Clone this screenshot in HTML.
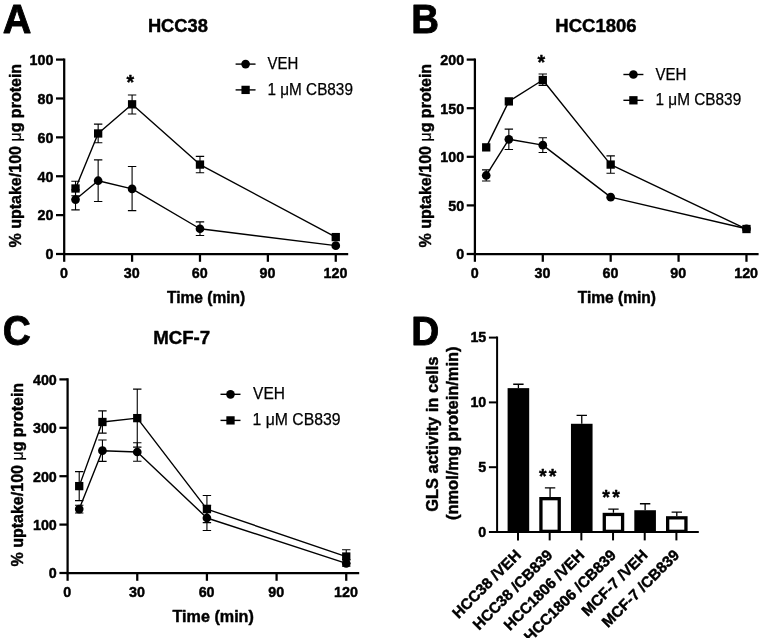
<!DOCTYPE html>
<html lang="en">
<head>
<meta charset="utf-8">
<title>Figure</title>
<style>
html,body{margin:0;padding:0;background:#fff;}
svg{display:block;}
</style>
</head>
<body>
<svg width="760" height="638" viewBox="0 0 760 638" font-family="'Liberation Sans', Arial, Helvetica, sans-serif" fill="#000" stroke="#000" stroke-linejoin="round">
<rect x="0" y="0" width="760" height="638" fill="#fff" stroke="none"/>
<path d="M75.52 199.57L98.15 180.71L132.09 188.88L199.98 228.73L335.76 245.64" stroke-width="1.4" fill="none"/>
<path d="M75.52 188.49L98.15 133.47L132.09 104.31L199.98 164.58L335.76 237.09" stroke-width="1.4" fill="none"/>
<path d="M75.52 189.85V209.87M71.31 189.85H79.72M71.31 209.87H79.72" stroke-width="1.1" fill="none"/>
<path d="M98.15 159.91V201.51M93.95 159.91H102.35M93.95 201.51H102.35" stroke-width="1.1" fill="none"/>
<path d="M132.09 166.52V210.65M127.89 166.52H136.29M127.89 210.65H136.29" stroke-width="1.1" fill="none"/>
<path d="M199.98 221.92V235.53M195.78 221.92H204.18M195.78 235.53H204.18" stroke-width="1.1" fill="none"/>
<circle cx="75.52" cy="199.57" r="4.35" stroke="none"/>
<circle cx="98.15" cy="180.71" r="4.35" stroke="none"/>
<circle cx="132.09" cy="188.88" r="4.35" stroke="none"/>
<circle cx="199.98" cy="228.73" r="4.35" stroke="none"/>
<circle cx="335.76" cy="245.64" r="4.35" stroke="none"/>
<path d="M75.52 181.29V195.68M71.31 181.29H79.72M71.31 195.68H79.72" stroke-width="1.1" fill="none"/>
<path d="M98.15 124.14V142.8M93.95 124.14H102.35M93.95 142.8H102.35" stroke-width="1.1" fill="none"/>
<path d="M132.09 94.98V114.03M127.89 94.98H136.29M127.89 114.03H136.29" stroke-width="1.1" fill="none"/>
<path d="M199.98 156.41V172.74M195.78 156.41H204.18M195.78 172.74H204.18" stroke-width="1.1" fill="none"/>
<rect x="71.36" y="184.34" width="8.3" height="8.3" stroke="none"/>
<rect x="94" y="129.32" width="8.3" height="8.3" stroke="none"/>
<rect x="127.94" y="100.16" width="8.3" height="8.3" stroke="none"/>
<rect x="195.83" y="160.43" width="8.3" height="8.3" stroke="none"/>
<rect x="331.61" y="232.94" width="8.3" height="8.3" stroke="none"/>
<path d="M64.2 58.47V255.12M63.08 254H348.2" stroke-width="2.25" fill="none"/>
<line x1="56" y1="254" x2="64.2" y2="254" stroke-width="2.25"/>
<text x="53.4" y="259.35" font-size="14.3" font-weight="bold" stroke-width="0.45" text-anchor="end" textLength="7.95" lengthAdjust="spacingAndGlyphs">0</text>
<line x1="56" y1="215.12" x2="64.2" y2="215.12" stroke-width="2.25"/>
<text x="53.4" y="220.47" font-size="14.3" font-weight="bold" stroke-width="0.45" text-anchor="end" textLength="15.91" lengthAdjust="spacingAndGlyphs">20</text>
<line x1="56" y1="176.24" x2="64.2" y2="176.24" stroke-width="2.25"/>
<text x="53.4" y="181.59" font-size="14.3" font-weight="bold" stroke-width="0.45" text-anchor="end" textLength="15.91" lengthAdjust="spacingAndGlyphs">40</text>
<line x1="56" y1="137.36" x2="64.2" y2="137.36" stroke-width="2.25"/>
<text x="53.4" y="142.71" font-size="14.3" font-weight="bold" stroke-width="0.45" text-anchor="end" textLength="15.91" lengthAdjust="spacingAndGlyphs">60</text>
<line x1="56" y1="98.48" x2="64.2" y2="98.48" stroke-width="2.25"/>
<text x="53.4" y="103.83" font-size="14.3" font-weight="bold" stroke-width="0.45" text-anchor="end" textLength="15.91" lengthAdjust="spacingAndGlyphs">80</text>
<line x1="56" y1="59.6" x2="64.2" y2="59.6" stroke-width="2.25"/>
<text x="53.4" y="64.95" font-size="14.3" font-weight="bold" stroke-width="0.45" text-anchor="end" textLength="23.86" lengthAdjust="spacingAndGlyphs">100</text>
<line x1="64.2" y1="254" x2="64.2" y2="261.8" stroke-width="2.25"/>
<text x="63.9" y="278.2" font-size="14.3" font-weight="bold" stroke-width="0.45" text-anchor="middle" textLength="7.95" lengthAdjust="spacingAndGlyphs">0</text>
<line x1="132.09" y1="254" x2="132.09" y2="261.8" stroke-width="2.25"/>
<text x="131.79" y="278.2" font-size="14.3" font-weight="bold" stroke-width="0.45" text-anchor="middle" textLength="15.91" lengthAdjust="spacingAndGlyphs">30</text>
<line x1="199.98" y1="254" x2="199.98" y2="261.8" stroke-width="2.25"/>
<text x="199.68" y="278.2" font-size="14.3" font-weight="bold" stroke-width="0.45" text-anchor="middle" textLength="15.91" lengthAdjust="spacingAndGlyphs">60</text>
<line x1="267.87" y1="254" x2="267.87" y2="261.8" stroke-width="2.25"/>
<text x="267.57" y="278.2" font-size="14.3" font-weight="bold" stroke-width="0.45" text-anchor="middle" textLength="15.91" lengthAdjust="spacingAndGlyphs">90</text>
<line x1="335.76" y1="254" x2="335.76" y2="261.8" stroke-width="2.25"/>
<text x="335.46" y="278.2" font-size="14.3" font-weight="bold" stroke-width="0.45" text-anchor="middle" textLength="23.86" lengthAdjust="spacingAndGlyphs">120</text>
<text transform="translate(167 303)" x="0.05" y="0" font-size="16.4" font-weight="bold" stroke-width="0.45" textLength="78.19" lengthAdjust="spacingAndGlyphs">Time (min)</text>
<text transform="translate(21.2 247.4) rotate(-90)" x="-0.17" y="0" font-size="15.7" font-weight="bold" stroke-width="0.45" textLength="183.74" lengthAdjust="spacingAndGlyphs">% uptake/100 <tspan font-weight="normal" stroke-width="0.2">μ</tspan>g protein</text>
<line x1="235.6" y1="64.1" x2="255.6" y2="64.1" stroke-width="1.4"/>
<circle cx="245.6" cy="64.1" r="4.35" stroke="none"/>
<text transform="translate(267.4 68.9)" x="0.06" y="0" font-size="16.1" stroke-width="0.25" textLength="30.73" lengthAdjust="spacingAndGlyphs">VEH</text>
<line x1="235.6" y1="89.9" x2="255.6" y2="89.9" stroke-width="1.4"/>
<rect x="241.45" y="85.75" width="8.3" height="8.3" stroke="none"/>
<text transform="translate(268.5 94.5)" x="-1.04" y="0" font-size="16.1" stroke-width="0.25" textLength="85.44" lengthAdjust="spacingAndGlyphs">1 μM CB839</text>
<text transform="translate(148.9 32.1)" x="-1" y="0" font-size="18.4" font-weight="bold" stroke-width="0.45" textLength="59.94" lengthAdjust="spacingAndGlyphs">HCC38</text>
<text x="130.2" y="89.1" font-size="19.6" font-weight="bold" stroke-width="0.4" text-anchor="middle">*</text>
<text transform="translate(3.3 32.8)" x="-0.54" y="0" font-size="40.6" font-weight="bold" stroke-width="0.9" textLength="28.63" lengthAdjust="spacingAndGlyphs">A</text>
<path d="M486.21 175.46L508.84 139.3L542.79 145.14L610.68 197.14L746.46 228.73" stroke-width="1.4" fill="none"/>
<path d="M486.21 147.37L508.84 101.4L542.79 80.01L610.68 164.58L746.46 229.02" stroke-width="1.4" fill="none"/>
<path d="M486.21 169.92V181M482.01 169.92H490.41M482.01 181H490.41" stroke-width="1.1" fill="none"/>
<path d="M508.84 129.1V149.51M504.64 129.1H513.04M504.64 149.51H513.04" stroke-width="1.1" fill="none"/>
<path d="M542.79 137.75V152.52M538.59 137.75H546.99M538.59 152.52H546.99" stroke-width="1.1" fill="none"/>
<circle cx="486.21" cy="175.46" r="4.35" stroke="none"/>
<circle cx="508.84" cy="139.3" r="4.35" stroke="none"/>
<circle cx="542.79" cy="145.14" r="4.35" stroke="none"/>
<circle cx="610.68" cy="197.14" r="4.35" stroke="none"/>
<circle cx="746.46" cy="228.73" r="4.35" stroke="none"/>
<path d="M542.79 73.99V85.36M538.59 73.99H546.99M538.59 85.36H546.99" stroke-width="1.1" fill="none"/>
<path d="M610.68 155.83V173.32M606.48 155.83H614.88M606.48 173.32H614.88" stroke-width="1.1" fill="none"/>
<rect x="482.06" y="143.22" width="8.3" height="8.3" stroke="none"/>
<rect x="504.69" y="97.25" width="8.3" height="8.3" stroke="none"/>
<rect x="538.64" y="75.86" width="8.3" height="8.3" stroke="none"/>
<rect x="606.53" y="160.43" width="8.3" height="8.3" stroke="none"/>
<rect x="742.31" y="224.87" width="8.3" height="8.3" stroke="none"/>
<path d="M474.9 58.47V255.12M473.77 254H758.6" stroke-width="2.25" fill="none"/>
<line x1="466.7" y1="254" x2="474.9" y2="254" stroke-width="2.25"/>
<text x="464.1" y="259.35" font-size="14.3" font-weight="bold" stroke-width="0.45" text-anchor="end" textLength="7.95" lengthAdjust="spacingAndGlyphs">0</text>
<line x1="466.7" y1="205.4" x2="474.9" y2="205.4" stroke-width="2.25"/>
<text x="464.1" y="210.75" font-size="14.3" font-weight="bold" stroke-width="0.45" text-anchor="end" textLength="15.91" lengthAdjust="spacingAndGlyphs">50</text>
<line x1="466.7" y1="156.8" x2="474.9" y2="156.8" stroke-width="2.25"/>
<text x="464.1" y="162.15" font-size="14.3" font-weight="bold" stroke-width="0.45" text-anchor="end" textLength="23.86" lengthAdjust="spacingAndGlyphs">100</text>
<line x1="466.7" y1="108.2" x2="474.9" y2="108.2" stroke-width="2.25"/>
<text x="464.1" y="113.55" font-size="14.3" font-weight="bold" stroke-width="0.45" text-anchor="end" textLength="23.86" lengthAdjust="spacingAndGlyphs">150</text>
<line x1="466.7" y1="59.6" x2="474.9" y2="59.6" stroke-width="2.25"/>
<text x="464.1" y="64.95" font-size="14.3" font-weight="bold" stroke-width="0.45" text-anchor="end" textLength="23.86" lengthAdjust="spacingAndGlyphs">200</text>
<line x1="474.9" y1="254" x2="474.9" y2="261.8" stroke-width="2.25"/>
<text x="474.6" y="278.2" font-size="14.3" font-weight="bold" stroke-width="0.45" text-anchor="middle" textLength="7.95" lengthAdjust="spacingAndGlyphs">0</text>
<line x1="542.79" y1="254" x2="542.79" y2="261.8" stroke-width="2.25"/>
<text x="542.49" y="278.2" font-size="14.3" font-weight="bold" stroke-width="0.45" text-anchor="middle" textLength="15.91" lengthAdjust="spacingAndGlyphs">30</text>
<line x1="610.68" y1="254" x2="610.68" y2="261.8" stroke-width="2.25"/>
<text x="610.38" y="278.2" font-size="14.3" font-weight="bold" stroke-width="0.45" text-anchor="middle" textLength="15.91" lengthAdjust="spacingAndGlyphs">60</text>
<line x1="678.57" y1="254" x2="678.57" y2="261.8" stroke-width="2.25"/>
<text x="678.27" y="278.2" font-size="14.3" font-weight="bold" stroke-width="0.45" text-anchor="middle" textLength="15.91" lengthAdjust="spacingAndGlyphs">90</text>
<line x1="746.46" y1="254" x2="746.46" y2="261.8" stroke-width="2.25"/>
<text x="746.16" y="278.2" font-size="14.3" font-weight="bold" stroke-width="0.45" text-anchor="middle" textLength="23.86" lengthAdjust="spacingAndGlyphs">120</text>
<text transform="translate(577.7 303)" x="0.05" y="0" font-size="16.4" font-weight="bold" stroke-width="0.45" textLength="78.19" lengthAdjust="spacingAndGlyphs">Time (min)</text>
<text transform="translate(430.5 247.4) rotate(-90)" x="-0.17" y="0" font-size="15.7" font-weight="bold" stroke-width="0.45" textLength="183.74" lengthAdjust="spacingAndGlyphs">% uptake/100 <tspan font-weight="normal" stroke-width="0.2">μ</tspan>g protein</text>
<line x1="623.4" y1="74.5" x2="643.4" y2="74.5" stroke-width="1.4"/>
<circle cx="633.4" cy="74.5" r="4.35" stroke="none"/>
<text transform="translate(655.5 79.5)" x="0.06" y="0" font-size="16.1" stroke-width="0.25" textLength="30.94" lengthAdjust="spacingAndGlyphs">VEH</text>
<line x1="623.4" y1="100.3" x2="643.4" y2="100.3" stroke-width="1.4"/>
<rect x="629.25" y="96.15" width="8.3" height="8.3" stroke="none"/>
<text transform="translate(656.5 105.1)" x="-1.05" y="0" font-size="16.1" stroke-width="0.25" textLength="85.75" lengthAdjust="spacingAndGlyphs">1 μM CB839</text>
<text transform="translate(556.3 32.1)" x="-1.01" y="0" font-size="18.4" font-weight="bold" stroke-width="0.45" textLength="81.26" lengthAdjust="spacingAndGlyphs">HCC1806</text>
<text x="541.4" y="68.6" font-size="19.6" font-weight="bold" stroke-width="0.4" text-anchor="middle">*</text>
<text transform="translate(413.3 32.6)" x="-2.12" y="0" font-size="40.6" font-weight="bold" stroke-width="0.9" textLength="27.71" lengthAdjust="spacingAndGlyphs">B</text>
<path d="M79.21 509.11L102.43 450.69L137.26 452L206.92 517.97L346.24 563.42" stroke-width="1.4" fill="none"/>
<path d="M79.21 486.12L102.43 421.99L137.26 418.12L206.92 509.11L346.24 556.54" stroke-width="1.4" fill="none"/>
<path d="M79.21 505.24V512.98M75.01 505.24H83.41M75.01 512.98H83.41" stroke-width="1.1" fill="none"/>
<path d="M102.43 440.05V461.34M98.23 440.05H106.63M98.23 461.34H106.63" stroke-width="1.1" fill="none"/>
<path d="M137.26 442.8V461.2M133.06 442.8H141.46M133.06 461.2H141.46" stroke-width="1.1" fill="none"/>
<path d="M206.92 505.39V530.55M202.72 505.39H211.12M202.72 530.55H211.12" stroke-width="1.1" fill="none"/>
<path d="M346.24 559.54V566.08M342.04 559.54H350.44M342.04 566.08H350.44" stroke-width="1.1" fill="none"/>
<circle cx="79.21" cy="509.11" r="4.35" stroke="none"/>
<circle cx="102.43" cy="450.69" r="4.35" stroke="none"/>
<circle cx="137.26" cy="452" r="4.35" stroke="none"/>
<circle cx="206.92" cy="517.97" r="4.35" stroke="none"/>
<circle cx="346.24" cy="563.42" r="4.35" stroke="none"/>
<path d="M79.21 471.6V500.64M75.01 471.6H83.41M75.01 500.64H83.41" stroke-width="1.1" fill="none"/>
<path d="M102.43 410.86V433.12M98.23 410.86H106.63M98.23 433.12H106.63" stroke-width="1.1" fill="none"/>
<path d="M137.26 389.08V447.16M133.06 389.08H141.46M133.06 447.16H141.46" stroke-width="1.1" fill="none"/>
<path d="M206.92 495.56V522.66M202.72 495.56H211.12M202.72 522.66H211.12" stroke-width="1.1" fill="none"/>
<path d="M346.24 549.77V563.32M342.04 549.77H350.44M342.04 563.32H350.44" stroke-width="1.1" fill="none"/>
<rect x="75.06" y="481.97" width="8.3" height="8.3" stroke="none"/>
<rect x="98.28" y="417.84" width="8.3" height="8.3" stroke="none"/>
<rect x="133.11" y="413.97" width="8.3" height="8.3" stroke="none"/>
<rect x="202.77" y="504.96" width="8.3" height="8.3" stroke="none"/>
<rect x="342.09" y="552.39" width="8.3" height="8.3" stroke="none"/>
<path d="M67.6 378.27V574.12M66.47 573H359.2" stroke-width="2.25" fill="none"/>
<line x1="59.4" y1="573" x2="67.6" y2="573" stroke-width="2.25"/>
<text x="56.8" y="578.35" font-size="14.3" font-weight="bold" stroke-width="0.45" text-anchor="end" textLength="7.95" lengthAdjust="spacingAndGlyphs">0</text>
<line x1="59.4" y1="524.6" x2="67.6" y2="524.6" stroke-width="2.25"/>
<text x="56.8" y="529.95" font-size="14.3" font-weight="bold" stroke-width="0.45" text-anchor="end" textLength="23.86" lengthAdjust="spacingAndGlyphs">100</text>
<line x1="59.4" y1="476.2" x2="67.6" y2="476.2" stroke-width="2.25"/>
<text x="56.8" y="481.55" font-size="14.3" font-weight="bold" stroke-width="0.45" text-anchor="end" textLength="23.86" lengthAdjust="spacingAndGlyphs">200</text>
<line x1="59.4" y1="427.8" x2="67.6" y2="427.8" stroke-width="2.25"/>
<text x="56.8" y="433.15" font-size="14.3" font-weight="bold" stroke-width="0.45" text-anchor="end" textLength="23.86" lengthAdjust="spacingAndGlyphs">300</text>
<line x1="59.4" y1="379.4" x2="67.6" y2="379.4" stroke-width="2.25"/>
<text x="56.8" y="384.75" font-size="14.3" font-weight="bold" stroke-width="0.45" text-anchor="end" textLength="23.86" lengthAdjust="spacingAndGlyphs">400</text>
<line x1="67.6" y1="573" x2="67.6" y2="580.8" stroke-width="2.25"/>
<text x="67.3" y="597.1" font-size="14.3" font-weight="bold" stroke-width="0.45" text-anchor="middle" textLength="7.95" lengthAdjust="spacingAndGlyphs">0</text>
<line x1="137.26" y1="573" x2="137.26" y2="580.8" stroke-width="2.25"/>
<text x="136.96" y="597.1" font-size="14.3" font-weight="bold" stroke-width="0.45" text-anchor="middle" textLength="15.91" lengthAdjust="spacingAndGlyphs">30</text>
<line x1="206.92" y1="573" x2="206.92" y2="580.8" stroke-width="2.25"/>
<text x="206.62" y="597.1" font-size="14.3" font-weight="bold" stroke-width="0.45" text-anchor="middle" textLength="15.91" lengthAdjust="spacingAndGlyphs">60</text>
<line x1="276.58" y1="573" x2="276.58" y2="580.8" stroke-width="2.25"/>
<text x="276.28" y="597.1" font-size="14.3" font-weight="bold" stroke-width="0.45" text-anchor="middle" textLength="15.91" lengthAdjust="spacingAndGlyphs">90</text>
<line x1="346.24" y1="573" x2="346.24" y2="580.8" stroke-width="2.25"/>
<text x="345.94" y="597.1" font-size="14.3" font-weight="bold" stroke-width="0.45" text-anchor="middle" textLength="23.86" lengthAdjust="spacingAndGlyphs">120</text>
<text transform="translate(172.5 621.5)" x="0.04" y="0" font-size="16.9" font-weight="bold" stroke-width="0.45" textLength="81.33" lengthAdjust="spacingAndGlyphs">Time (min)</text>
<text transform="translate(22.8 566.4) rotate(-90)" x="-0.17" y="0" font-size="15.7" font-weight="bold" stroke-width="0.45" textLength="183.74" lengthAdjust="spacingAndGlyphs">% uptake/100 <tspan font-weight="normal" stroke-width="0.2">μ</tspan>g protein</text>
<line x1="220.5" y1="394.3" x2="240.5" y2="394.3" stroke-width="1.4"/>
<circle cx="230.5" cy="394.3" r="4.35" stroke="none"/>
<text transform="translate(253 399.1)" x="0.06" y="0" font-size="16.1" stroke-width="0.25" textLength="31.88" lengthAdjust="spacingAndGlyphs">VEH</text>
<line x1="220.5" y1="420.4" x2="240.5" y2="420.4" stroke-width="1.4"/>
<rect x="226.35" y="416.25" width="8.3" height="8.3" stroke="none"/>
<text transform="translate(253.6 424.8)" x="-1.08" y="0" font-size="16.1" stroke-width="0.25" textLength="88.1" lengthAdjust="spacingAndGlyphs">1 μM CB839</text>
<text transform="translate(154.2 344.4)" x="-1.02" y="0" font-size="19.2" font-weight="bold" stroke-width="0.45" textLength="57.02" lengthAdjust="spacingAndGlyphs">MCF-7</text>
<text transform="translate(4 345.3)" x="-1.14" y="0" font-size="42.3" font-weight="bold" stroke-width="0.9" textLength="28.06" lengthAdjust="spacingAndGlyphs">C</text>
<path d="M518.4 388.14V384.26M513.2 384.26H523.6" stroke-width="1.3" fill="none"/>
<rect x="507.6" y="388.14" width="21.6" height="143.86" stroke="none"/>
<path d="M550.08 497.01V487.94M544.88 487.94H555.28" stroke-width="1.3" fill="none"/>
<rect x="540.93" y="498.66" width="18.3" height="32.69" fill="#fff" stroke-width="3.3" stroke-linejoin="miter"/>
<path d="M581.76 423.78V415.36M576.56 415.36H586.96" stroke-width="1.3" fill="none"/>
<rect x="570.96" y="423.78" width="21.6" height="108.22" stroke="none"/>
<path d="M613.44 512.82V509.19M608.24 509.19H618.64" stroke-width="1.3" fill="none"/>
<rect x="604.29" y="514.47" width="18.3" height="16.88" fill="#fff" stroke-width="3.3" stroke-linejoin="miter"/>
<path d="M645.12 510.23V503.75M639.92 503.75H650.32" stroke-width="1.3" fill="none"/>
<rect x="634.32" y="510.23" width="21.6" height="21.77" stroke="none"/>
<path d="M676.8 516.19V512.04M671.6 512.04H682" stroke-width="1.3" fill="none"/>
<rect x="667.65" y="517.84" width="18.3" height="13.51" fill="#fff" stroke-width="3.3" stroke-linejoin="miter"/>
<path d="M497.1 336.6V533M496.1 532H698.8" stroke-width="2" fill="none"/>
<line x1="488.9" y1="532" x2="497.1" y2="532" stroke-width="2"/>
<text x="486.3" y="536.6" font-size="14.3" font-weight="bold" stroke-width="0.45" text-anchor="end" textLength="7.95" lengthAdjust="spacingAndGlyphs">0</text>
<line x1="488.9" y1="467.2" x2="497.1" y2="467.2" stroke-width="2"/>
<text x="486.3" y="471.8" font-size="14.3" font-weight="bold" stroke-width="0.45" text-anchor="end" textLength="7.95" lengthAdjust="spacingAndGlyphs">5</text>
<line x1="488.9" y1="402.4" x2="497.1" y2="402.4" stroke-width="2"/>
<text x="486.3" y="407" font-size="14.3" font-weight="bold" stroke-width="0.45" text-anchor="end" textLength="15.91" lengthAdjust="spacingAndGlyphs">10</text>
<line x1="488.9" y1="337.6" x2="497.1" y2="337.6" stroke-width="2"/>
<text x="486.3" y="342.2" font-size="14.3" font-weight="bold" stroke-width="0.45" text-anchor="end" textLength="15.91" lengthAdjust="spacingAndGlyphs">15</text>
<line x1="518" y1="532" x2="518" y2="540.4" stroke-width="2"/>
<text x="521.9" y="556" font-size="15.2" font-weight="bold" stroke-width="0.45" text-anchor="end" transform="rotate(-45 521.9 556)" textLength="89.54" lengthAdjust="spacingAndGlyphs">HCC38 /VEH</text>
<line x1="549.68" y1="532" x2="549.68" y2="540.4" stroke-width="2"/>
<text x="553.58" y="556" font-size="15.2" font-weight="bold" stroke-width="0.45" text-anchor="end" transform="rotate(-45 553.58 556)" textLength="105.6" lengthAdjust="spacingAndGlyphs">HCC38 /CB839</text>
<line x1="581.36" y1="532" x2="581.36" y2="540.4" stroke-width="2"/>
<text x="585.26" y="556" font-size="15.2" font-weight="bold" stroke-width="0.45" text-anchor="end" transform="rotate(-45 585.26 556)" textLength="106.44" lengthAdjust="spacingAndGlyphs">HCC1806 /VEH</text>
<line x1="613.04" y1="532" x2="613.04" y2="540.4" stroke-width="2"/>
<text x="616.94" y="556" font-size="15.2" font-weight="bold" stroke-width="0.45" text-anchor="end" transform="rotate(-45 616.94 556)" textLength="122.51" lengthAdjust="spacingAndGlyphs">HCC1806 /CB839</text>
<line x1="644.72" y1="532" x2="644.72" y2="540.4" stroke-width="2"/>
<text x="648.62" y="556" font-size="15.2" font-weight="bold" stroke-width="0.45" text-anchor="end" transform="rotate(-45 648.62 556)" textLength="86.14" lengthAdjust="spacingAndGlyphs">MCF-7 /VEH</text>
<line x1="676.4" y1="532" x2="676.4" y2="540.4" stroke-width="2"/>
<text x="680.3" y="556" font-size="15.2" font-weight="bold" stroke-width="0.45" text-anchor="end" transform="rotate(-45 680.3 556)" textLength="102.2" lengthAdjust="spacingAndGlyphs">MCF-7 /CB839</text>
<text transform="translate(437.5 511.3) rotate(-90)" x="-0.45" y="0" font-size="16.1" font-weight="bold" stroke-width="0.45" textLength="155.2" lengthAdjust="spacingAndGlyphs">GLS activity in cells</text>
<text transform="translate(458 519.5) rotate(-90)" x="-0.59" y="0" font-size="16.1" font-weight="bold" stroke-width="0.45" textLength="173.69" lengthAdjust="spacingAndGlyphs">(nmol/mg protein/min)</text>
<text x="542.75" y="482.9" font-size="19.6" font-weight="bold" stroke-width="0.4" text-anchor="middle">*</text>
<text x="552.65" y="482.9" font-size="19.6" font-weight="bold" stroke-width="0.4" text-anchor="middle">*</text>
<text x="606.15" y="503.8" font-size="19.6" font-weight="bold" stroke-width="0.4" text-anchor="middle">*</text>
<text x="616.05" y="503.8" font-size="19.6" font-weight="bold" stroke-width="0.4" text-anchor="middle">*</text>
<text transform="translate(413.3 344.5)" x="-2.15" y="0" font-size="40.6" font-weight="bold" stroke-width="0.9" textLength="28.03" lengthAdjust="spacingAndGlyphs">D</text>
</svg>
</body>
</html>
